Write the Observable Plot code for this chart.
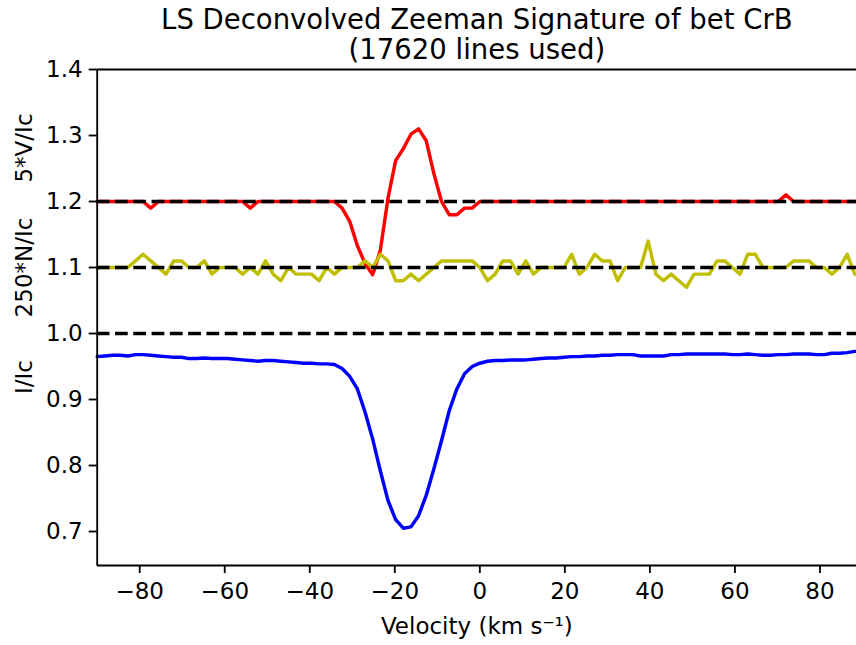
<!DOCTYPE html>
<html>
<head>
<meta charset="utf-8">
<script src="https://cdn.jsdelivr.net/npm/d3@7"></script>
<script src="https://cdn.jsdelivr.net/npm/@observablehq/plot@0.6"></script>
<style>
  html, body { margin: 0; padding: 0; background: #fff; }
</style>
</head>
<body>
<div id="chart"></div>
<script>
// LSD velocity grid (km/s)
const velocity = [
  -90, -88.2, -86.4, -84.6, -82.8, -81, -79.2, -77.4, -75.6, -73.8,
  -72, -70.2, -68.4, -66.6, -64.8, -63, -61.2, -59.4, -57.6, -55.8,
  -54, -52.2, -50.4, -48.6, -46.8, -45, -43.2, -41.4, -39.6, -37.8,
  -36, -34.2, -32.4, -30.6, -28.8, -27, -25.2, -23.4, -21.6, -19.8,
  -18, -16.2, -14.4, -12.6, -10.8, -9, -7.2, -5.4, -3.6, -1.8,
  0, 1.8, 3.6, 5.4, 7.2, 9, 10.8, 12.6, 14.4, 16.2,
  18, 19.8, 21.6, 23.4, 25.2, 27, 28.8, 30.6, 32.4, 34.2,
  36, 37.8, 39.6, 41.4, 43.2, 45, 46.8, 48.6, 50.4, 52.2,
  54, 55.8, 57.6, 59.4, 61.2, 63, 64.8, 66.6, 68.4, 70.2,
  72, 73.8, 75.6, 77.4, 79.2, 81, 82.8, 84.6, 86.4, 88.2
];

// Stokes I / Ic
const stokesI = [
  0.965, 0.966, 0.967, 0.967, 0.966, 0.968, 0.968, 0.967, 0.966, 0.965,
  0.964, 0.964, 0.962, 0.962, 0.963, 0.962, 0.962, 0.962, 0.961, 0.960,
  0.959, 0.958, 0.959, 0.959, 0.958, 0.957, 0.956, 0.955, 0.955, 0.954,
  0.954, 0.953, 0.947, 0.935, 0.916, 0.881, 0.840, 0.792, 0.747, 0.718,
  0.705, 0.707, 0.724, 0.755, 0.795, 0.838, 0.883, 0.916, 0.939, 0.950,
  0.955, 0.958, 0.959, 0.959, 0.960, 0.960, 0.960, 0.961, 0.962, 0.963,
  0.963, 0.964, 0.965, 0.965, 0.966, 0.966, 0.967, 0.967, 0.968, 0.968,
  0.968, 0.966, 0.966, 0.966, 0.966, 0.968, 0.968, 0.969, 0.969, 0.969,
  0.969, 0.969, 0.969, 0.968, 0.968, 0.969, 0.968, 0.967, 0.967, 0.968,
  0.968, 0.969, 0.969, 0.969, 0.968, 0.968, 0.970, 0.970, 0.971, 0.973
];

// 5*V/Ic shifted to 1.2
const stokesV = [
  1.2, 1.2, 1.2, 1.2, 1.2, 1.2, 1.2, 1.19, 1.2, 1.2,
  1.2, 1.2, 1.2, 1.2, 1.2, 1.2, 1.2, 1.2, 1.2, 1.2,
  1.19, 1.2, 1.2, 1.2, 1.2, 1.2, 1.2, 1.2, 1.2, 1.2,
  1.2, 1.2, 1.19, 1.17, 1.133, 1.106, 1.089, 1.126, 1.205, 1.262,
  1.28, 1.302, 1.31, 1.292, 1.242, 1.2, 1.18, 1.18, 1.19, 1.19,
  1.2, 1.2, 1.2, 1.2, 1.2, 1.2, 1.2, 1.2, 1.2, 1.2,
  1.2, 1.2, 1.2, 1.2, 1.2, 1.2, 1.2, 1.2, 1.2, 1.2,
  1.2, 1.2, 1.2, 1.2, 1.2, 1.2, 1.2, 1.2, 1.2, 1.2,
  1.2, 1.2, 1.2, 1.2, 1.2, 1.2, 1.2, 1.2, 1.2, 1.2,
  1.21, 1.2, 1.2, 1.2, 1.2, 1.2, 1.2, 1.2, 1.2, 1.2
];

// 250*N/Ic shifted to 1.1
const nullN = [
  1.10, 1.10, 1.10, 1.10, 1.10, 1.11, 1.12, 1.11, 1.10, 1.09,
  1.11, 1.11, 1.10, 1.10, 1.11, 1.09, 1.10, 1.10, 1.10, 1.09,
  1.10, 1.09, 1.11, 1.09, 1.08, 1.10, 1.09, 1.09, 1.09, 1.08,
  1.10, 1.09, 1.10, 1.10, 1.10, 1.11, 1.10, 1.12, 1.11, 1.08,
  1.08, 1.09, 1.08, 1.09, 1.10, 1.11, 1.11, 1.11, 1.11, 1.11,
  1.10, 1.08, 1.09, 1.11, 1.11, 1.09, 1.11, 1.09, 1.10, 1.10,
  1.10, 1.10, 1.12, 1.09, 1.10, 1.12, 1.11, 1.11, 1.08, 1.10,
  1.10, 1.10, 1.14, 1.09, 1.08, 1.09, 1.08, 1.07, 1.09, 1.09,
  1.09, 1.11, 1.11, 1.10, 1.09, 1.12, 1.12, 1.10, 1.10, 1.10,
  1.10, 1.11, 1.11, 1.11, 1.10, 1.10, 1.09, 1.10, 1.12, 1.09
];

// Zero levels of the three offset profiles
const refLevels = [1.2, 1.1, 1.0];

const xTicks = [-80, -60, -40, -20, 0, 20, 40, 60, 80];
const yTicks = [0.7, 0.8, 0.9, 1.0, 1.1, 1.2, 1.3, 1.4];
const titleText = "LS Deconvolved Zeeman Signature of bet CrB\n(17620 lines used)";
const xLabel = "Velocity (km s\u207B\u00B9)";
const yLabels = ["5*V/Ic", "250*N/Ic", "I/Ic"];

const rows = velocity.map((v, i) => ({v, I: stokesI[i], V: stokesV[i], N: nullN[i]}));

const xDomain = [-90, 88.6];
const yDomain = [0.6485, 1.4];
const fs = 23;          // tick and label font size
const lw = 3.45;        // profile line width
const spine = 1.84;     // axis line width
const minusFmt = d => d < 0 ? "\u2212" + Math.abs(d) : String(d);

const chart = Plot.plot({
  width: 856,
  height: 645,
  marginLeft: 96.7,
  marginRight: 0,
  marginTop: 69,
  marginBottom: 80,
  style: {fontFamily: "'DejaVu Sans', sans-serif", fontSize: fs + "px", background: "#fff", color: "#000", overflow: "visible"},
  x: {domain: xDomain},
  y: {domain: yDomain},
  marks: [
    Plot.line(rows, {x: "v", y: "I", stroke: "#0000ff", strokeWidth: lw, strokeLinejoin: "round"}),
    Plot.line(rows, {x: "v", y: "V", stroke: "#ff0000", strokeWidth: lw, strokeLinejoin: "round"}),
    Plot.line(rows, {x: "v", y: "N", stroke: "#bfbf00", strokeWidth: lw, strokeLinejoin: "round"}),
    Plot.ruleY(refLevels, {stroke: "#000", strokeWidth: lw, strokeDasharray: "12.77,5.52"}),
    // spines: left, bottom, top
    Plot.ruleX([xDomain[0]], {stroke: "#000", strokeWidth: spine}),
    Plot.ruleY([yDomain[0], yDomain[1]], {stroke: "#000", strokeWidth: spine}),
    Plot.axisX({ticks: xTicks, tickFormat: minusFmt, tickSize: 8, tickPadding: 9, strokeWidth: spine, fontSize: fs, label: null}),
    Plot.axisY({ticks: yTicks, tickFormat: d3.format(".1f"), tickSize: 8, tickPadding: 6.5, strokeWidth: spine, fontSize: fs, label: null}),
    Plot.text([xLabel], {frameAnchor: "bottom", dy: 61, lineAnchor: "middle", fontSize: fs}),
    Plot.text([titleText], {frameAnchor: "top", dy: -61, lineAnchor: "top", fontSize: 27.5, lineHeight: 1.07}),
    Plot.text([yLabels[0]], {frameAnchor: "top-left", dx: -73, dy: 78.5, rotate: -90, textAnchor: "middle", lineAnchor: "middle", fontSize: fs}),
    Plot.text([yLabels[1]], {frameAnchor: "top-left", dx: -73, dy: 198, rotate: -90, textAnchor: "middle", lineAnchor: "middle", fontSize: fs}),
    Plot.text([yLabels[2]], {frameAnchor: "top-left", dx: -73, dy: 307.5, rotate: -90, textAnchor: "middle", lineAnchor: "middle", fontSize: fs})
  ]
});

document.getElementById("chart").appendChild(chart);
</script>
</body>
</html>
